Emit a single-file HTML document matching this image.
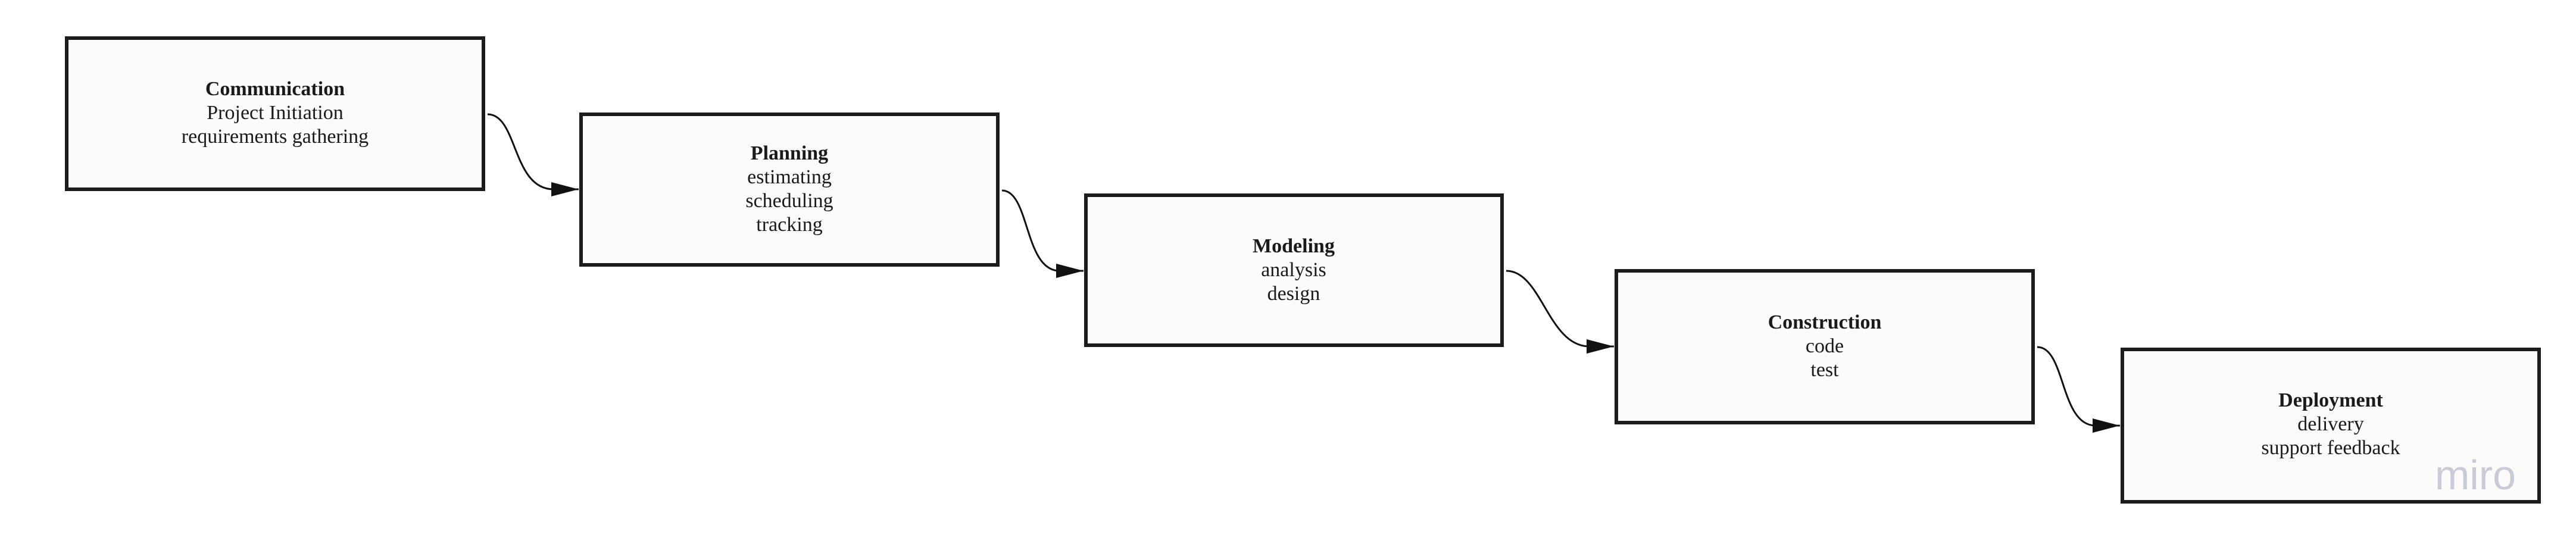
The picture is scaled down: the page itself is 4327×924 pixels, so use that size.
<!DOCTYPE html>
<html><head><meta charset="utf-8"><style>
html,body{margin:0;padding:0;background:#fff;}
svg{display:block;}
text{font-family:"Liberation Serif",serif;font-size:34px;fill:#1a1a1a;}
.b{font-weight:bold;}
</style></head><body>
<svg width="4327" height="924" viewBox="0 0 4327 924" xmlns="http://www.w3.org/2000/svg">
<defs>
<marker id="a" markerWidth="46" markerHeight="24" refX="46" refY="12" orient="auto" markerUnits="userSpaceOnUse">
<path d="M0,0 L46,12 L0,24 Z" fill="#111"/>
</marker>
</defs>
<g fill="#fcfbf9" stroke="#1c1c1c" stroke-width="6">
<rect x="112" y="64" width="700" height="254"/>
<rect x="976" y="192" width="700" height="253"/>
<rect x="1824" y="328" width="699" height="252"/>
<rect x="2715" y="455" width="700" height="255"/>
<rect x="3565" y="587" width="700" height="256"/>
</g>
<g fill="none" stroke="#111" stroke-width="3">
<path d="M819,192 C870,192 860,318 930,318 L972,318" marker-end="url(#a)"/>
<path d="M1683,320 C1730,320 1720,455 1780,455 L1820,455" marker-end="url(#a)"/>
<path d="M2530,455 C2590,455 2600,582 2670,582 L2711,582" marker-end="url(#a)"/>
<path d="M3422,583 C3470,583 3460,715 3520,715 L3561,715" marker-end="url(#a)"/>
</g>
<g text-anchor="middle">
<text x="462" y="160" class="b">Communication</text>
<text x="462" y="200">Project Initiation</text>
<text x="462" y="240">requirements gathering</text>

<text x="1326" y="268" class="b">Planning</text>
<text x="1326" y="308">estimating</text>
<text x="1326" y="348">scheduling</text>
<text x="1326" y="388">tracking</text>

<text x="2173" y="424" class="b">Modeling</text>
<text x="2173" y="464">analysis</text>
<text x="2173" y="504">design</text>

<text x="3065" y="552" class="b">Construction</text>
<text x="3065" y="592">code</text>
<text x="3065" y="632">test</text>

<text x="3915" y="683" class="b">Deployment</text>
<text x="3915" y="723">delivery</text>
<text x="3915" y="763">support feedback</text>
</g>
<text x="4158" y="822" text-anchor="middle" style="font-family:'Liberation Sans',sans-serif;font-size:70px;fill:#cbcad8;">miro</text>
</svg>
</body></html>
